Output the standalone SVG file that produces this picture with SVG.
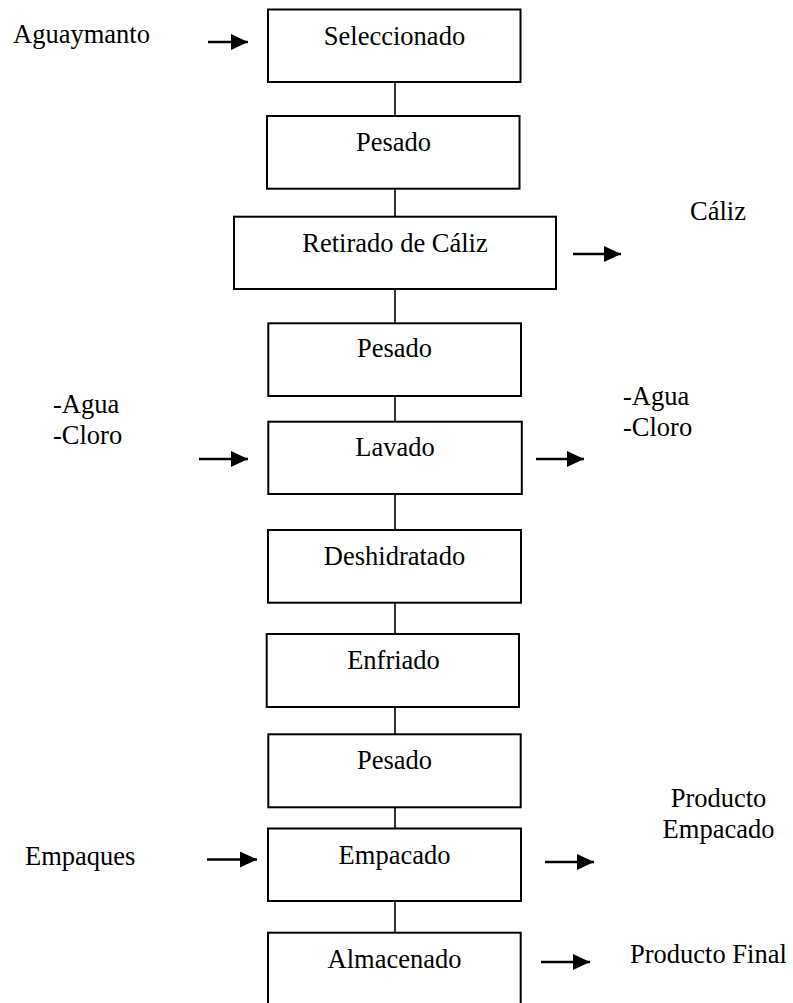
<svg xmlns="http://www.w3.org/2000/svg" width="793" height="1003" viewBox="0 0 793 1003">
  <style>
    .box { fill: #ffffff; stroke: #000000; stroke-width: 2; }
    .lbl { font-family: "Liberation Serif", "Times New Roman", serif; font-size: 26.5px; fill: #000000; }
    .mid { text-anchor: middle; }
    .link { stroke: #000000; stroke-width: 1.6; fill: none; }
    .flow { stroke: #000000; stroke-width: 2.4; fill: none; marker-end: url(#head); }
  </style>
  <defs>
    <marker id="head" markerUnits="userSpaceOnUse" markerWidth="20" markerHeight="20" refX="17" refY="8" orient="auto">
      <polygon points="0,0 17,8 0,16" fill="#000000"/>
    </marker>
  </defs>
  <rect width="793" height="1003" fill="#ffffff"/>

  <!-- vertical links between the process steps -->
  <g id="connectors">
    <line class="link" x1="395" y1="82" x2="395" y2="116"/>
    <line class="link" x1="395" y1="189" x2="395" y2="217"/>
    <line class="link" x1="395" y1="289" x2="395" y2="323"/>
    <line class="link" x1="395" y1="396" x2="395" y2="422"/>
    <line class="link" x1="395" y1="494" x2="395" y2="530"/>
    <line class="link" x1="395" y1="603" x2="395" y2="634"/>
    <line class="link" x1="395" y1="707" x2="395" y2="734"/>
    <line class="link" x1="395" y1="807" x2="395" y2="829"/>
    <line class="link" x1="395" y1="901" x2="395" y2="933"/>

    <!-- inputs and outputs -->
    <line class="flow" x1="208" y1="42" x2="248" y2="42"/>
    <line class="flow" x1="573" y1="254" x2="621" y2="254"/>
    <line class="flow" x1="199" y1="459" x2="248" y2="459"/>
    <line class="flow" x1="536" y1="459" x2="584" y2="459"/>
    <line class="flow" x1="207" y1="859.5" x2="257" y2="859.5"/>
    <line class="flow" x1="545" y1="862" x2="594" y2="862"/>
    <line class="flow" x1="541" y1="962" x2="590" y2="962"/>
  </g>

  <g id="seleccionado">
    <rect class="box" x="268" y="9.5" width="252.5" height="72.5"/>
    <text class="lbl mid" x="394.5" y="44.5">Seleccionado</text>
  </g>
  <g id="pesado-1">
    <rect class="box" x="267" y="116" width="252.5" height="72.7"/>
    <text class="lbl mid" x="393.5" y="150.5">Pesado</text>
  </g>
  <g id="retirado-caliz">
    <rect class="box" x="234" y="216.7" width="322" height="72.3"/>
    <text class="lbl mid" x="395" y="251.5">Retirado de Cáliz</text>
  </g>
  <g id="pesado-2">
    <rect class="box" x="268.3" y="323.3" width="252.7" height="72.7"/>
    <text class="lbl mid" x="394.5" y="356.5">Pesado</text>
  </g>
  <g id="lavado">
    <rect class="box" x="268.3" y="421.7" width="253.5" height="72.3"/>
    <text class="lbl mid" x="395" y="456">Lavado</text>
  </g>
  <g id="deshidratado">
    <rect class="box" x="268" y="530" width="253" height="72.7"/>
    <text class="lbl mid" x="394.5" y="565">Deshidratado</text>
  </g>
  <g id="enfriado">
    <rect class="box" x="266.7" y="634" width="252.3" height="73"/>
    <text class="lbl mid" x="393.5" y="668.5">Enfriado</text>
  </g>
  <g id="pesado-3">
    <rect class="box" x="268.3" y="734.3" width="252.4" height="73"/>
    <text class="lbl mid" x="394.5" y="769.3">Pesado</text>
  </g>
  <g id="empacado">
    <rect class="box" x="268" y="828.5" width="253" height="72.5"/>
    <text class="lbl mid" x="394.5" y="863.5">Empacado</text>
  </g>
  <g id="almacenado">
    <rect class="box" x="268" y="932.7" width="252.7" height="80"/>
    <text class="lbl mid" x="394.5" y="967.7">Almacenado</text>
  </g>

  <!-- side labels -->
  <g id="in-aguaymanto">
    <text class="lbl" x="13" y="42.5">Aguaymanto</text>
  </g>
  <g id="out-caliz">
    <text class="lbl" x="690" y="220">Cáliz</text>
  </g>
  <g id="in-agua-cloro">
    <text class="lbl" x="53" y="413">-Agua</text>
    <text class="lbl" x="53" y="444">-Cloro</text>
  </g>
  <g id="out-agua-cloro">
    <text class="lbl" x="623" y="405">-Agua</text>
    <text class="lbl" x="623" y="436">-Cloro</text>
  </g>
  <g id="in-empaques">
    <text class="lbl" x="25" y="865">Empaques</text>
  </g>
  <g id="out-producto-empacado">
    <text class="lbl mid" x="718.5" y="806.7">Producto</text>
    <text class="lbl mid" x="718.5" y="838">Empacado</text>
  </g>
  <g id="out-producto-final">
    <text class="lbl" x="630" y="962.7">Producto Final</text>
  </g>
</svg>
